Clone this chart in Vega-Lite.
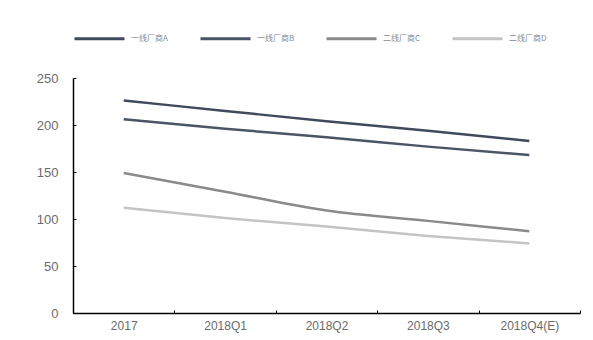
{
  "$schema": "https://vega.github.io/schema/vega-lite/v6.json",
  "width": 507,
  "height": 235,
  "autosize": {"type": "none"},
  "padding": {"left": 73, "top": 78, "right": 13, "bottom": 27},
  "background": "white",
  "config": {"view": {"stroke": null}, "font": "Liberation Sans"},
  "data": {"values": [
    {"period": "2017", "series": "一线厂商A", "value": 226},
    {"period": "2018Q1", "series": "一线厂商A", "value": 215},
    {"period": "2018Q2", "series": "一线厂商A", "value": 204},
    {"period": "2018Q3", "series": "一线厂商A", "value": 194},
    {"period": "2018Q4(E)", "series": "一线厂商A", "value": 183},
    {"period": "2017", "series": "一线厂商B", "value": 206},
    {"period": "2018Q1", "series": "一线厂商B", "value": 196},
    {"period": "2018Q2", "series": "一线厂商B", "value": 187},
    {"period": "2018Q3", "series": "一线厂商B", "value": 177},
    {"period": "2018Q4(E)", "series": "一线厂商B", "value": 168},
    {"period": "2017", "series": "二线厂商C", "value": 149},
    {"period": "2018Q1", "series": "二线厂商C", "value": 129},
    {"period": "2018Q2", "series": "二线厂商C", "value": 109},
    {"period": "2018Q3", "series": "二线厂商C", "value": 98},
    {"period": "2018Q4(E)", "series": "二线厂商C", "value": 87},
    {"period": "2017", "series": "二线厂商D", "value": 112},
    {"period": "2018Q1", "series": "二线厂商D", "value": 101},
    {"period": "2018Q2", "series": "二线厂商D", "value": 92},
    {"period": "2018Q3", "series": "二线厂商D", "value": 82},
    {"period": "2018Q4(E)", "series": "二线厂商D", "value": 74}
  ]},
  "mark": {"type": "line", "interpolate": "monotone", "strokeWidth": 2.5},
  "encoding": {
    "x": {
      "field": "period", "type": "nominal", "sort": null,
      "scale": {"type": "band", "paddingInner": 0, "paddingOuter": 0},
      "axis": {"title": null, "labelAngle": 0, "tickBand": "extent", "domainColor": "#000000", "domainWidth": 1.5,
               "tickColor": "#000000", "tickSize": -3, "labelPadding": 10, "labelColor": "#6b6b6b", "labelFontSize": 12}
    },
    "y": {
      "field": "value", "type": "quantitative",
      "scale": {"domain": [0, 250]},
      "axis": {"title": null, "values": [0, 50, 100, 150, 200, 250], "grid": false, "domainColor": "#000000", "domainWidth": 1.5,
               "tickColor": "#000000", "tickSize": -3, "labelPadding": 18, "labelColor": "#6b6b6b", "labelFontSize": 13}
    },
    "color": {
      "field": "series", "type": "nominal",
      "scale": {"domain": ["一线厂商A", "一线厂商B", "二线厂商C", "二线厂商D"], "range": ["#3f4b5c", "#4a5566", "#8a8a8a", "#c4c4c4"]},
      "legend": {"title": null, "orient": "none", "legendX": 0, "legendY": -66, "direction": "horizontal", "columns": 4,
                 "gridAlign": "all", "columnPadding": 25, "symbolType": "stroke", "symbolSize": 2500, "symbolStrokeWidth": 3,
                 "labelFontSize": 8, "labelColor": "#8a8a8a", "labelOffset": 5, "labelFont": "Noto Sans CJK SC"}
    }
  }
}
